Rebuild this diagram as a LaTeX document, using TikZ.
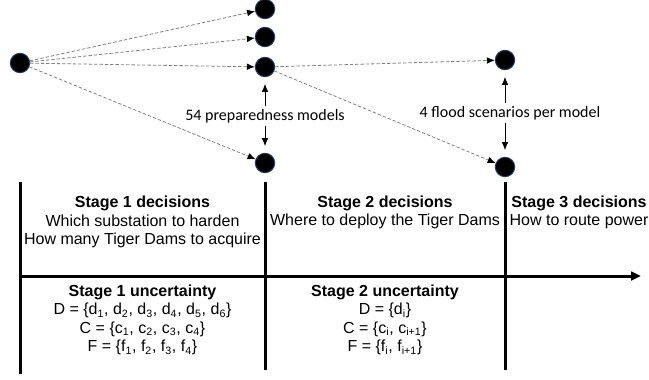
\documentclass[tikz,border=0pt]{standalone}
\usepackage{fontspec}
\setmainfont{Liberation Sans}
\newfontfamily\labelfont{Carlito}
\usetikzlibrary{positioning,arrows.meta}
\definecolor{nodeblue}{RGB}{31,56,100}

\begin{document}
\begin{tikzpicture}[x=0.75pt,y=-0.75pt,
punto/.style={circle, fill=black, draw=nodeblue, line width=0.75pt, minimum size=14.5pt, inner sep=0pt},
rama/.style={draw=gray, dash pattern=on 2.5pt off 1.5pt, line width=0.6pt, -{Latex[color=black, length=6pt, width=5pt]}},
flecha/.style={line width=0.75pt, -{Latex[length=6pt, width=5pt]}, shorten >=5pt},
eje/.style={line width=2.25pt},
etapa/.style={align=center, font=\fontsize{12}{13.9}\selectfont},
etiqueta/.style={font=\labelfont\fontsize{12}{14}\selectfont, inner sep=2pt},
]
\useasboundingbox (0,0) rectangle (649,379);
%Nodes
\node[punto]     (raiz)    at (20,63)   {};
\node[punto]     (m1)      at (265,9)   {};
\node[punto]     (m2)      at (265,37)  {};
\node[punto]     (m3)      at (265,67)  {};
\node[punto]     (m4)      at (265,163) {};
\node[punto]     (s1)      at (505,60)  {};
\node[punto]     (s2)      at (505,167) {};

\node[etiqueta]  (modelos)   at (265,116) {54 preparedness models};
\node[etiqueta]  (escenarios) at (510,113) {4 flood scenarios per model};

\node[etapa]     (decision1) at (142.5,222) {\textbf{Stage 1 decisions}\\Which substation to harden\\How many Tiger Dams to acquire};
\node[etapa]     (decision2) at (385,212.5) {\textbf{Stage 2 decisions}\\Where to deploy the Tiger Dams};
\node[etapa]     (decision3) at (579,212.5) {\textbf{Stage 3 decisions}\\How to route power};

\node[etapa]     (incertidumbre1) at (142.5,320) {\textbf{Stage 1 uncertainty}\\D = \{d\textsubscript{1}, d\textsubscript{2}, d\textsubscript{3}, d\textsubscript{4}, d\textsubscript{5}, d\textsubscript{6}\}\\C = \{c\textsubscript{1}, c\textsubscript{2}, c\textsubscript{3}, c\textsubscript{4}\}\\F = \{f\textsubscript{1}, f\textsubscript{2}, f\textsubscript{3}, f\textsubscript{4}\}};
\node[etapa]     (incertidumbre2) at (385,320) {\textbf{Stage 2 uncertainty}\\D = \{d\textsubscript{i}\}\\C = \{c\textsubscript{i}, c\textsubscript{i+1}\}\\F = \{f\textsubscript{i}, f\textsubscript{i+1}\}};

%Lines
\draw[rama] (raiz) -- (m1);
\draw[rama] (raiz) -- (m2);
\draw[rama] (raiz) -- (m3);
\draw[rama] (raiz) -- (m4);
\draw[rama] (m3) -- (s1);
\draw[rama] (m3) -- (s2);

\draw[flecha] (modelos.north -| m3) -- (m3);
\draw[flecha] (modelos.south -| m4) -- (m4);
\draw[flecha] (escenarios.north -| s1) -- (s1);
\draw[flecha] (escenarios.south -| s2) -- (s2);

\draw[eje] (20,182) -- (20,374);
\draw[eje] (265,182) -- (265,370);
\draw[eje] (505,182) -- (505,370);
\draw[eje, -{Triangle[length=7.5pt, width=6.5pt]}] (20,276) -- (641,276);

\end{tikzpicture}
\end{document}
